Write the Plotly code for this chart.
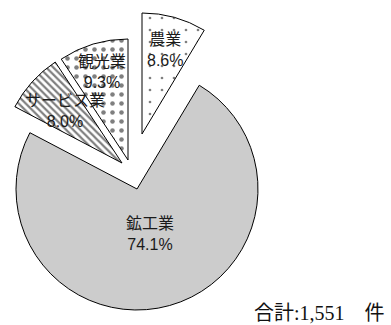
import math
import plotly.graph_objects as go

# Share of cases by industry (percent), listed clockwise from 12 o'clock
industries = ["農業", "鉱工業", "サービス業", "観光業"]
shares = [8.6, 74.1, 8.0, 9.3]
total_cases = 1551

# Per-slice styling
fill_colors = ["white", "#cccccc", "white", "white"]
pattern_shapes = [".", "", "\\", "."]
pattern_sizes = [12, 8, 5, 9]
pattern_solidity = [0.04, 0.2, 0.45, 0.2]
label_radius = [0.72, 0.39, 0.64, 0.76]   # label distance along bisector, as fraction of radius

# Each slice is drawn by its own pie trace so it can be offset from the centre.
# Centre (px from top-left) of each slice's pie; radius in px.
W, H = 391, 325
R = 121
centers = {
    "農業": (142, 134),
    "鉱工業": (137, 189),
    "サービス業": (122, 163),
    "観光業": (128, 160),
}

fig = go.Figure()
draw_order = ["鉱工業", "農業", "サービス業", "観光業"]
for name in draw_order:
    k = industries.index(name)
    cx, cy = centers[name]
    colors = ["rgba(0,0,0,0)"] * len(industries)
    colors[k] = fill_colors[k]
    widths = [0] * len(industries)
    widths[k] = 1
    shapes = [""] * len(industries)
    shapes[k] = pattern_shapes[k]
    fig.add_trace(go.Pie(
        labels=industries,
        values=shares,
        sort=False,
        direction="clockwise",
        rotation=0,
        marker=dict(
            colors=colors,
            line=dict(color="black", width=widths),
            pattern=dict(
                shape=shapes,
                size=pattern_sizes,
                solidity=pattern_solidity,
                fgcolor="black",
                fillmode="overlay",
            ),
        ),
        textinfo="none",
        hoverinfo="skip",
        showlegend=False,
        domain=dict(
            x=[(cx - R) / W, (cx + R) / W],
            y=[(H - cy - R) / H, (H - cy + R) / H],
        ),
    ))

# Slice labels placed along each slice's bisector
total_share = sum(shares)
start = 0.0
for k, name in enumerate(industries):
    mid = (start + shares[k] / 2) / total_share * 2 * math.pi
    start += shares[k]
    cx, cy = centers[name]
    lx = cx + label_radius[k] * R * math.sin(mid)
    ly = cy - label_radius[k] * R * math.cos(mid)
    fig.add_annotation(
        text=f"{name}<br>{shares[k] / total_share * 100:.1f}%",
        x=lx / W, y=(H - ly) / H, xref="paper", yref="paper",
        xanchor="center", yanchor="middle", showarrow=False,
        font=dict(family="Liberation Sans, Noto Sans CJK JP", size=16, color="#1a1a1a"),
    )

fig.add_annotation(
    text=f"合計:{total_cases:,}\u3000件",
    x=387 / W, y=(H - 313) / H, xref="paper", yref="paper",
    xanchor="right", yanchor="middle", showarrow=False,
    font=dict(family="Liberation Serif, Noto Sans CJK JP", size=20, color="#111111"),
)

fig.update_layout(
    width=W, height=H,
    margin=dict(l=0, r=0, t=0, b=0),
    paper_bgcolor="white",
    plot_bgcolor="white",
)

fig.write_html("out.html")
